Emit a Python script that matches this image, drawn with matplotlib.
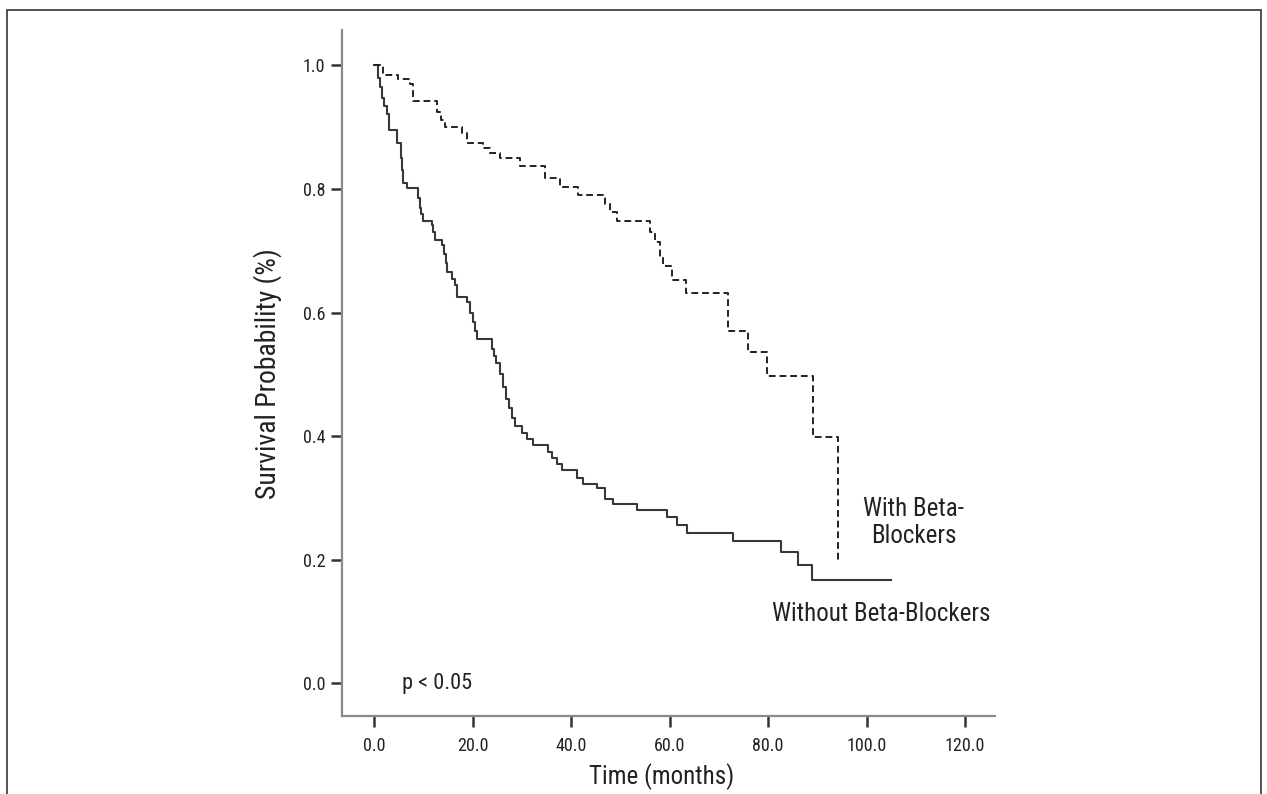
# Kaplan-Meier style survival curves: with vs without beta-blockers
import matplotlib
matplotlib.use("Agg")
import matplotlib.pyplot as plt
from matplotlib.patches import Rectangle

FONT = ["Roboto Condensed", "Archivo Narrow", "Liberation Sans", "DejaVu Sans"]
plt.rcParams["font.family"] = FONT

# step times (months) and survival after each step
with_bb_time = [0.0, 1.8, 4.9, 7.3, 7.9, 12.8, 13.6, 14.4, 17.8, 18.9, 22.1,
                23.5, 25.6, 29.6, 34.7, 37.7, 41.4, 46.9, 47.9, 49.3, 56.0,
                57.0, 58.0, 58.6, 60.4, 63.3, 71.8, 75.9, 79.7, 89.2, 94.3]
with_bb_surv = [1.0, 0.985, 0.978, 0.970, 0.943, 0.925, 0.911, 0.900, 0.890,
                0.875, 0.866, 0.858, 0.850, 0.837, 0.817, 0.804, 0.791, 0.775,
                0.762, 0.749, 0.730, 0.714, 0.690, 0.676, 0.652, 0.631, 0.571,
                0.537, 0.497, 0.398, 0.200]

without_bb_time = [0.0, 0.8, 1.2, 1.6, 2.0, 2.6, 3.0, 4.7, 5.5, 5.7, 5.9, 6.7,
                   8.9, 9.3, 9.6, 9.9, 11.8, 12.0, 12.4, 13.8, 14.2, 14.5,
                   14.8, 15.8, 16.4, 16.8, 18.9, 19.5, 20.1, 20.5, 20.9, 23.9,
                   24.3, 24.7, 25.6, 26.2, 26.8, 27.4, 28.0, 28.6, 30.0, 31.0,
                   32.3, 35.3, 36.1, 37.1, 38.1, 41.2, 42.4, 45.2, 46.9, 48.5,
                   53.3, 59.4, 61.5, 63.5, 72.8, 82.6, 86.0, 89.0, 104.9]
without_bb_surv = [1.0, 0.980, 0.965, 0.948, 0.935, 0.922, 0.895, 0.874, 0.850,
                   0.830, 0.809, 0.801, 0.786, 0.770, 0.760, 0.749, 0.741,
                   0.730, 0.717, 0.709, 0.695, 0.680, 0.665, 0.655, 0.644,
                   0.626, 0.617, 0.600, 0.585, 0.570, 0.557, 0.541, 0.530,
                   0.518, 0.500, 0.480, 0.460, 0.445, 0.430, 0.417, 0.406,
                   0.395, 0.385, 0.375, 0.365, 0.355, 0.345, 0.333, 0.322,
                   0.316, 0.299, 0.291, 0.280, 0.269, 0.257, 0.244, 0.231,
                   0.212, 0.191, 0.168, 0.168]

x_ticks = [0, 20, 40, 60, 80, 100, 120]
y_ticks = [0.0, 0.2, 0.4, 0.6, 0.8, 1.0]


def main():
    fig = plt.figure(figsize=(12.67, 7.94), dpi=100)
    ax = fig.add_axes([0.270, 0.098, 0.515, 0.864])

    # outer frame (bottom edge runs off the image)
    fig.patches.append(Rectangle((7 / 1267, -0.05), 1254 / 1267, 1.05 - 10 / 794,
                                 transform=fig.transFigure, fill=False,
                                 edgecolor="#444444", lw=1.3))

    ax.step(without_bb_time, without_bb_surv, where="post",
            color="#383838", lw=1.5)
    ax.step(with_bb_time, with_bb_surv, where="post",
            color="#222222", lw=1.4, linestyle=(0, (3.5, 2)))

    ax.set_xlim(-6.5, 126)
    ax.set_ylim(-0.053, 1.057)
    ax.set_xticks(x_ticks)
    ax.set_xticklabels([f"{v:.1f}" for v in x_ticks])
    ax.set_yticks(y_ticks)
    ax.set_yticklabels([f"{v:.1f}" for v in y_ticks])

    for side in ["top", "right"]:
        ax.spines[side].set_visible(False)
    for side in ["left", "bottom"]:
        ax.spines[side].set_color("#8a8a8a")
        ax.spines[side].set_linewidth(1.6)
    ax.tick_params(direction="out", length=8, width=1.8, color="#333333",
                   labelsize=13, labelcolor="#222222")
    ax.tick_params(axis="x", pad=7)
    ax.tick_params(axis="y", pad=4)

    ax.set_xlabel("Time (months)", fontsize=18, color="#222222")
    ax.xaxis.set_label_coords(0.49, -0.068)
    ax.set_ylabel("Survival Probability (%)", fontsize=20, color="#222222")
    ax.yaxis.set_label_coords(-0.092, 0.5)

    ax.text(5.6, 0.0, "p < 0.05", fontsize=16, va="center", ha="left",
            color="#222222")
    ax.text(109.6, 0.26, "With Beta-\nBlockers", fontsize=18, ha="center",
            va="center", color="#222222", linespacing=1.15)
    ax.text(80.7, 0.113, "Without Beta-Blockers", fontsize=18, ha="left",
            va="center", color="#222222")

    fig.savefig("out.png", dpi=100)
    plt.close(fig)


if __name__ == "__main__":
    main()
